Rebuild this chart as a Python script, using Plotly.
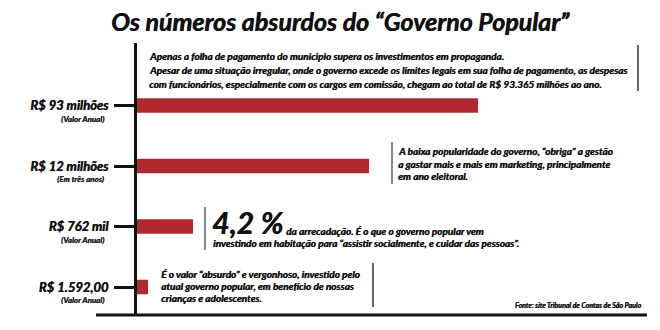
import plotly.graph_objects as go

# ---- data ----
bar_labels = ["R$ 93 milhões", "R$ 12 milhões", "R$ 762 mil", "R$ 1.592,00"]
bar_sublabels = ["(Valor Anual)", "(Em três anos)", "(Valor Anual)", "(Valor Anual)"]
bar_positions = [0, 1, 2, 3]
# displayed bar lengths (infographic, not to scale), in chart units
bar_length = [341, 232, 56, 11]

title_text = "Os números absurdos do “Governo Popular”"
note1_lines = [
    "Apenas a folha de pagamento do municipio supera os investimentos em propaganda.",
    "Apesar de uma situação irregular, onde o governo excede os limites legais em sua folha de pagamento, as despesas",
    "com funcionários, especialmente com os cargos em comissão, chegam ao total de R$ 93.365 milhões ao ano.",
]
note2_lines = [
    "A baixa popularidade do governo, “obriga” a gestão",
    "a gastar mais e mais em marketing, principalmente",
    "em ano eleitoral.",
]
note3_big = "4,2 %"
note3_lines = [
    "da arrecadação. É o que o governo popular vem",
    "investindo em habitação para “assistir socialmente, e cuidar das pessoas”.",
]
note4_lines = [
    "É o valor “absurdo” e vergonhoso, investido pelo",
    "atual governo popular, em benefício de nossas",
    "crianças e adolescentes.",
]
source_text = "Fonte: site Tribunal de Contas de São Paulo"

RED = "#b0292e"
FONT = "Lato"
W, H = 660, 330
L, R, T, B = 137, 13, 43, 15
PW, PH = W - L - R, H - T - B
HEAVY = "0.45px 0px 0px #111"


def px(x):
    return (x - L) / PW


def py(y):
    return (H - B - y) / PH


fig = go.Figure()
fig.add_trace(go.Bar(
    x=bar_length, y=bar_positions, orientation="h", width=0.24,
    marker=dict(color=RED, line=dict(width=0)), hoverinfo="skip",
))

ann = []
# sub labels under tick labels
for p, s in zip(bar_positions, bar_sublabels):
    ann.append(dict(x=px(106), xref="paper", y=p, yref="y", yshift=-13,
                    text=s, showarrow=False, xanchor="right", yanchor="middle",
                    font=dict(family=FONT, size=8, color="#222", weight="bold", style="italic",
                              shadow="0.3px 0px 0px #222")))


def add_lines(lines, x, y0, dy, size=10, color="#111"):
    for i, t in enumerate(lines):
        ann.append(dict(x=px(x), xref="paper", y=py(y0 + i * dy), yref="paper",
                        text=t, showarrow=False, xanchor="left", yanchor="middle",
                        font=dict(family=FONT, size=size, color=color, weight="bold", style="italic",
                                  shadow=HEAVY)))


add_lines(note1_lines, 147, 56, 14)
add_lines(note2_lines, 396, 151, 12.5)
add_lines(note4_lines, 159, 274, 12)
ann.append(dict(x=px(210), xref="paper", y=py(222), yref="paper", text=note3_big,
                showarrow=False, xanchor="left", yanchor="middle",
                font=dict(family=FONT, size=30, color="#111", weight="bold", style="italic",
                          shadow="0.6px 0px 0px #111")))
add_lines(note3_lines[:1], 284, 231, 12)
add_lines(note3_lines[1:], 211, 243, 12)
ann.append(dict(x=px(643), xref="paper", y=py(305), yref="paper", text=source_text,
                showarrow=False, xanchor="right", yanchor="middle",
                font=dict(family=FONT, size=7, color="#111", weight="bold", style="italic",
                          shadow="0.3px 0px 0px #111")))

shapes = [
    # bottom baseline extending left of plot
    dict(type="line", xref="paper", yref="paper", x0=px(96), x1=px(647), y0=py(315), y1=py(315),
         line=dict(color="#111", width=3)),
    dict(type="line", xref="paper", yref="paper", x0=px(638), x1=px(638), y0=py(45), y1=py(91),
         line=dict(color="#333", width=1.5)),
    dict(type="line", xref="paper", yref="paper", x0=px(392), x1=px(392), y0=py(142), y1=py(184),
         line=dict(color="#888", width=2)),
    dict(type="line", xref="paper", yref="paper", x0=px(205), x1=px(205), y0=py(207), y1=py(250),
         line=dict(color="#888", width=2)),
    dict(type="line", xref="paper", yref="paper", x0=px(373), x1=px(373), y0=py(263), y1=py(307),
         line=dict(color="#333", width=1.5)),
]

fig.update_layout(
    width=W, height=H, margin=dict(l=L, r=R, t=T, b=B),
    paper_bgcolor="white", plot_bgcolor="white", showlegend=False,
    title=dict(text=title_text, x=340 / W, xanchor="center", y=1 - 22 / H, yanchor="middle",
               font=dict(family=FONT, size=25, color="#111", weight="bold", style="italic",
                         shadow="0.6px 0px 0px #111")),
    xaxis=dict(range=[0, PW], visible=False, fixedrange=True),
    yaxis=dict(range=[3 + (H - B - 287) / 60.5, -(105.5 - T) / 60.5],
               tickvals=bar_positions, ticktext=bar_labels,
               ticks="outside", ticklen=20, tickwidth=3, tickcolor="#111",
               showline=True, linewidth=3, linecolor="#111", showgrid=False, zeroline=False,
               ticklabelstandoff=3,
               tickfont=dict(family=FONT, size=13, color="#111", weight="bold", style="italic",
                             shadow="0.5px 0px 0px #111")),
    annotations=ann, shapes=shapes,
)
fig.write_html("out.html")
